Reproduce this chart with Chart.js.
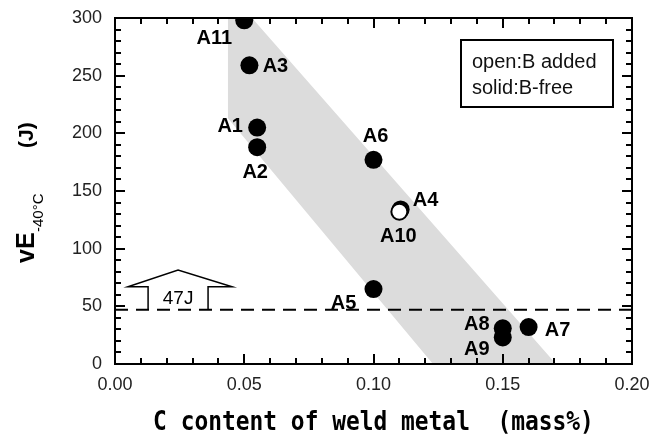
<!DOCTYPE html>
<html>
<head>
<meta charset="utf-8">
<script src="https://cdn.jsdelivr.net/npm/chart.js@4.4.0/dist/chart.umd.min.js"></script>
<style>
  body { margin: 0; background: #fff; }
</style>
</head>
<body>
<canvas id="chart" width="662" height="441"></canvas>
<script>
// weld metal samples
const sampleNames = ['A1', 'A2', 'A3', 'A4', 'A5', 'A6', 'A7', 'A8', 'A9', 'A10', 'A11'];
const carbonContent = [0.055, 0.055, 0.052, 0.1105, 0.10, 0.10, 0.16, 0.15, 0.15, 0.11, 0.05];
const toughness = [205, 188, 259, 134, 65, 177, 32, 31, 23, 132, 298];
const boronAdded = [false, false, false, false, false, false, false, false, false, true, false];

const xTicks = [0, 0.05, 0.10, 0.15, 0.20];
const yTicks = [0, 50, 100, 150, 200, 250, 300];

// scatter band (grey) and the 47J requirement
const bandC = [0.0437, 0.0437, 0.123, 0.1706, 0.053];
const bandVE = [300, 213, 0, 0, 300];
const requiredVE = 47;
const arrowC = [0.0128, 0.0128, 0.005, 0.0244, 0.0453, 0.036, 0.036];
const arrowVE = [47, 67, 67, 81.5, 67, 67, 47];

const FONT = '"Liberation Sans", Arial, sans-serif';

const toPoints = (xs, ys) => xs.map((v, i) => ({x: v, y: ys[i]}));
const solidPts = [], openPts = [];
sampleNames.forEach((n, i) => {
    const p = {x: carbonContent[i], y: toughness[i], name: n};
    (boronAdded[i] ? openPts : solidPts).push(p);
});

// label offsets in px from the marker
const labelOffset = {
    A1: [-27, -1], A2: [-2, 25], A3: [26, 1], A4: [25, -9], A5: [-30, 14],
    A6: [2, -23], A7: [29, 3], A8: [-26, -4], A9: [-26, 12], A10: [-1, 25], A11: [-30, 18]
};

const decorations = {
    id: 'decorations',
    afterDatasetsDraw(chart) {
        const {ctx, scales: {x, y}} = chart;
        ctx.save();
        // point labels
        ctx.font = 'bold 20px ' + FONT;
        ctx.fillStyle = '#000';
        ctx.textAlign = 'center';
        ctx.textBaseline = 'middle';
        [...solidPts, ...openPts].forEach(p => {
            const o = labelOffset[p.name];
            ctx.fillText(p.name, x.getPixelForValue(p.x) + o[0], y.getPixelForValue(p.y) + o[1]);
        });
        // 47J inside arrow
        ctx.font = '19px ' + FONT;
        ctx.fillText(requiredVE + 'J', x.getPixelForValue(arrowC[3]),
            (y.getPixelForValue(arrowVE[0]) + y.getPixelForValue(arrowVE[1])) / 2 + 1);
        ctx.restore();
    },
    afterDraw(chart) {
        const {ctx, chartArea: a, scales: {x, y}} = chart;
        ctx.save();
        ctx.strokeStyle = '#000';
        ctx.lineWidth = 2;
        ctx.strokeRect(a.left, a.top, a.right - a.left, a.bottom - a.top);
        ctx.beginPath();
        for (let i = 0; i <= 20; i++) {
            const px = Math.round(x.getPixelForValue(i * 0.01));
            const len = i % 5 === 0 ? 10 : 6;
            ctx.moveTo(px, a.bottom); ctx.lineTo(px, a.bottom - len);
            ctx.moveTo(px, a.top); ctx.lineTo(px, a.top + len);
        }
        for (let v = 0; v <= 300; v += 10) {
            const py = Math.round(y.getPixelForValue(v));
            const len = v % 50 === 0 ? 10 : 6;
            ctx.moveTo(a.left, py); ctx.lineTo(a.left + len, py);
            ctx.moveTo(a.right, py); ctx.lineTo(a.right - len, py);
        }
        ctx.stroke();

        // legend box
        const bx = a.right - 171, by = 40;
        ctx.lineWidth = 2;
        ctx.strokeRect(bx, by, 152, 67);
        ctx.font = '20px ' + FONT;
        ctx.fillStyle = '#111';
        ctx.textBaseline = 'middle';
        ctx.fillText('open:B added', bx + 11, by + 22);
        ctx.fillText('solid:B-free', bx + 11, by + 48);

        // y axis title with subscript
        ctx.save();
        ctx.translate(0, 263);
        ctx.rotate(-Math.PI / 2);
        ctx.textBaseline = 'alphabetic';
        ctx.fillStyle = '#000';
        ctx.font = 'bold 25px ' + FONT;
        ctx.fillText('vE', 0, 34);
        ctx.font = '15px ' + FONT;
        ctx.fillText('-40°C', 31, 43);
        ctx.font = 'bold 21px ' + FONT;
        ctx.fillText('(J)', 115, 33);
        ctx.restore();

        // x axis title
        ctx.save();
        ctx.translate((a.left + a.right) / 2, 430);
        ctx.scale(0.88, 1.05);
        ctx.font = 'bold 26px "DejaVu Sans Mono", monospace';
        ctx.textAlign = 'center';
        ctx.textBaseline = 'alphabetic';
        ctx.fillStyle = '#000';
        ctx.fillText('C content of weld metal  (mass%)', 0, 0);
        ctx.restore();

        ctx.restore();
    }
};

new Chart(document.getElementById('chart').getContext('2d'), {
    type: 'scatter',
    data: {
        datasets: [
            {
                data: openPts,
                pointRadius: 8,
                pointBackgroundColor: '#fff',
                pointBorderColor: '#000',
                pointBorderWidth: 2,
                order: 0
            },
            {
                data: solidPts,
                pointRadius: 9,
                pointBackgroundColor: '#000',
                pointBorderColor: '#000',
                pointBorderWidth: 0,
                order: 1
            },
            {
                data: [{x: 0, y: requiredVE}, {x: 0.2, y: requiredVE}],
                showLine: true,
                borderColor: '#000',
                borderWidth: 2,
                borderDash: [13, 8],
                pointRadius: 0,
                order: 2
            },
            {
                data: toPoints(arrowC, arrowVE),
                showLine: true,
                borderColor: '#000',
                borderWidth: 1.5,
                pointRadius: 0,
                fill: false,
                order: 3
            },
            {
                data: toPoints(bandC, bandVE),
                showLine: true,
                borderWidth: 0,
                borderColor: 'rgba(0,0,0,0)',
                backgroundColor: '#dcdcdc',
                fill: 'shape',
                pointRadius: 0,
                order: 10
            }
        ]
    },
    options: {
        responsive: false,
        animation: false,
        devicePixelRatio: 1,
        layout: {padding: {top: 18, right: 30, left: 0, bottom: 0}},
        plugins: {
            legend: {display: false},
            tooltip: {enabled: false}
        },
        scales: {
            x: {
                type: 'linear',
                min: 0,
                max: 0.2,
                afterBuildTicks: s => { s.ticks = xTicks.map(v => ({value: v})); },
                afterFit: s => {
                    s.height = 77;
                    s.paddingLeft = 0;
                    s.paddingRight = 0;
                },
                ticks: {
                    callback: v => v.toFixed(2),
                    font: {family: FONT, size: 18},
                    color: '#222',
                    padding: 10,
                    maxRotation: 0,
                    autoSkip: false
                },
                grid: {display: false, drawTicks: false},
                border: {display: false}
            },
            y: {
                type: 'linear',
                min: 0,
                max: 300,
                afterBuildTicks: s => { s.ticks = yTicks.map(v => ({value: v})); },
                afterFit: s => {
                    s.width = 115;
                    s.paddingTop = 0;
                    s.paddingBottom = 0;
                },
                ticks: {
                    font: {family: FONT, size: 18},
                    color: '#222',
                    padding: 13,
                    autoSkip: false
                },
                grid: {display: false, drawTicks: false},
                border: {display: false}
            }
        }
    },
    plugins: [decorations]
});
</script>
</body>
</html>
